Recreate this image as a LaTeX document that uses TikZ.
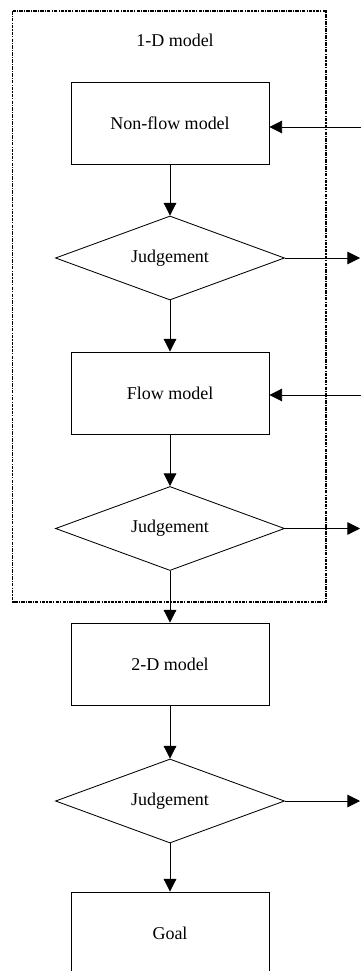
\documentclass[tikz,border=0pt]{standalone}
\usepackage{fontspec}
\setmainfont{Liberation Serif}
\usetikzlibrary{arrows.meta,shapes.geometric}

\begin{document}
\begin{tikzpicture}[
    x=0.025cm, y=-0.025cm,
    font=\fontsize{12.8}{15}\selectfont,
    >={Triangle[length=9pt,width=9pt]},
    stage/.style={draw=black, line width=0.6pt, minimum width=4.95cm,
      minimum height=2.05cm, inner sep=0pt},
    judge/.style={draw=black, line width=0.6pt, diamond, aspect=2.7,
      minimum width=5.725cm, minimum height=2.1cm, inner sep=0pt},
    flow/.style={draw=black, line width=0.6pt, ->},
    frame/.style={draw=black, line width=0.9pt,
      dash pattern=on 2.5pt off 0.8pt on 0.8pt off 0.8pt},
]
\useasboundingbox (0,0) rectangle (361,971);
\clip (0,0) rectangle (361,971);

% ---------------------------------------------------------
% 1-D model block
% ---------------------------------------------------------
\draw[frame] (12.7,11) rectangle (326,602);
\node (title) at (175,40) {1-D model};

\node[stage] (nonflow) at (170,123.5) {Non-flow model};
\node[judge] (judgeA) at (170,258) {Judgement};
\node[stage] (flowmod) at (170,393) {Flow model};
\node[judge] (judgeB) at (170,528.5) {Judgement};

% ---------------------------------------------------------
% 2-D model and goal
% ---------------------------------------------------------
\node[stage] (twod) at (170,664) {2-D model};
\node[judge] (judgeC) at (170,801) {Judgement};
\node[stage] (goal) at (170,933) {Goal};

% vertical chain
\draw[flow] (nonflow) -- (judgeA);
\draw[flow] (judgeA) -- (flowmod);
\draw[flow] (flowmod) -- (judgeB);
\draw[flow] (judgeB) -- (twod);
\draw[flow] (twod) -- (judgeC);
\draw[flow] (judgeC) -- (goal);

% side feedback
\coordinate (inA) at (361,127);
\coordinate (inB) at (361,395);
\coordinate (outA) at (360,258);
\coordinate (outB) at (360,528.5);
\coordinate (outC) at (360,801);
\draw[flow] (inA) -- (inA -| nonflow.east);
\draw[flow] (inB) -- (inB -| flowmod.east);
\draw[flow] (judgeA.east) -- (outA);
\draw[flow] (judgeB.east) -- (outB);
\draw[flow] (judgeC.east) -- (outC);

\end{tikzpicture}
\end{document}
